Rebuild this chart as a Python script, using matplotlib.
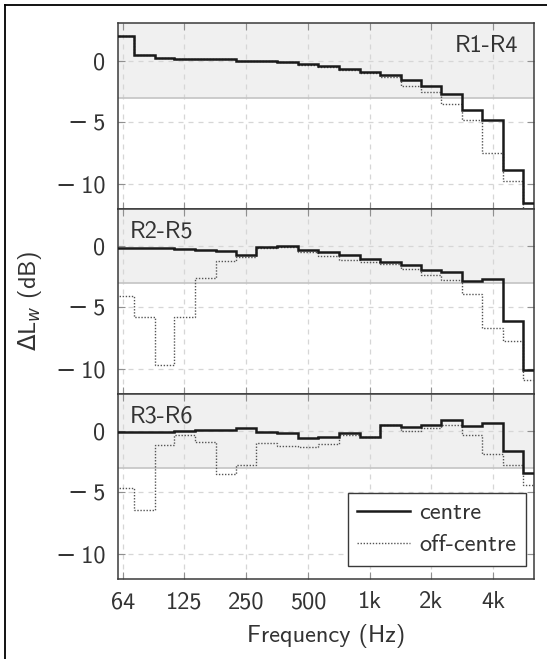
import numpy as np
import matplotlib.pyplot as plt
from matplotlib.lines import Line2D
from matplotlib.ticker import FuncFormatter

plt.rcParams['font.family'] = ['cmss10', 'DejaVu Sans']
plt.rcParams['mathtext.fontset'] = 'dejavusans'

# third-octave band centres (Hz)
bands = [63, 80, 100, 125, 160, 200, 250, 315, 400, 500, 630, 800,
         1000, 1250, 1600, 2000, 2500, 3150, 4000, 5000, 6300]

r14_centre = [1.95, 0.41, 0.24, 0.16, 0.11, 0.11, 0.0, -0.01, -0.14, -0.3, -0.46,
              -0.68, -0.95, -1.16, -1.57, -2.1, -2.7, -4.05, -4.8, -8.86, -11.54]
r14_off = [1.95, 0.41, 0.24, 0.15, 0.1, 0.1, -0.02, -0.03, -0.16, -0.35, -0.49,
           -0.76, -1.03, -1.35, -2.1, -2.54, -3.5, -4.8, -7.5, -9.76, -12.5]

r25_centre = [-0.19, -0.19, -0.2, -0.27, -0.32, -0.46, -0.73, -0.14, 0.0, -0.32, -0.5,
              -0.76, -1.05, -1.32, -1.54, -1.97, -2.16, -2.9, -2.7, -6.14, -10.1]
r25_off = [-4.1, -5.78, -9.7, -5.78, -2.62, -1.22, -0.95, -0.19, -0.14, -0.54, -0.86,
           -1.19, -1.32, -1.49, -1.92, -2.35, -2.78, -3.92, -6.68, -7.76, -10.86]

r36_centre = [-0.08, -0.08, -0.08, 0.0, 0.05, 0.05, 0.22, -0.08, -0.19, -0.62, -0.52,
              -0.19, -0.49, 0.49, 0.32, 0.46, 0.86, 0.35, 0.62, -1.62, -3.4]
r36_off = [-4.65, -6.4, -1.14, -0.32, -0.95, -3.54, -2.78, -1.0, -1.22, -1.32, -1.05,
           -0.38, -0.52, 0.45, 0.0, 0.19, 0.49, -0.35, -1.92, -2.78, -4.4]

panels = ['R1-R4', 'R2-R5', 'R3-R6']
xticks = [63, 125, 250, 500, 1000, 2000, 4000]
xticklabels = ['64', '125', '250', '500', '1k', '2k', '4k']
yticks = [0, -5, -10]

# band edges = geometric midpoints between centres
b = np.array(bands, dtype=float)
mid = np.sqrt(b[:-1] * b[1:])
edges = np.concatenate([[b[0] ** 2 / mid[0]], mid, [b[-1] ** 2 / mid[-1]]])


def ylab(v, pos):
    v = int(round(v))
    return '\u2212\u2009' + str(-v) if v < 0 else str(v)


fs = 17.5
fig = plt.figure(figsize=(5.47, 6.59), dpi=100)
left, right = 118 / 547, 534.3 / 547
bottom, top = 1 - 578.7 / 659, 1 - 23.5 / 659
h = (top - bottom) / 3

data = [(r14_centre, r14_off), (r25_centre, r25_off), (r36_centre, r36_off)]
axes = []
for i, (centre, off) in enumerate(data):
    ax = fig.add_axes([left, top - (i + 1) * h, right - left, h])
    axes.append(ax)
    ax.set_xscale('log')
    ax.set_xlim(59.3, 6350)
    ax.set_ylim(-12, 3)
    ax.axhspan(-3, 3, color='#f0f0f0', lw=0, zorder=0)
    ax.axhline(-3, color='#c4c4c4', lw=1.2, zorder=0.6)
    ax.set_axisbelow(True)
    ax.grid(True, color='#d6d6d6', lw=0.9, linestyle=(0, (4, 4)))

    ax.stairs(off, edges, color='#555555', lw=1.0, linestyle=(0, (1, 1.2)),
              baseline=None, zorder=3)
    ax.stairs(centre, edges, color='#1a1a1a', lw=1.8, baseline=None, zorder=4)

    ax.set_yticks(yticks)
    ax.yaxis.set_major_formatter(FuncFormatter(ylab))
    ax.set_xticks(xticks)
    ax.set_xticklabels(xticklabels)
    ax.minorticks_off()
    ax.tick_params(direction='in', top=True, right=True, length=5, width=0.8,
                   color='#909090', labelsize=fs, labelcolor='#333333', pad=9)
    for s in ax.spines.values():
        s.set_color('#3a3a3a')
        s.set_linewidth(1.1)
    if i < 2:
        ax.tick_params(labelbottom=False)

    if i == 0:
        ax.text(0.962, 0.845, panels[i], transform=ax.transAxes, ha='right',
                va='baseline', fontsize=17.5, color='#333333')
    else:
        ax.text(0.028, 0.845, panels[i], transform=ax.transAxes, ha='left',
                va='baseline', fontsize=17.5, color='#333333')

ax3 = axes[2]
ax3.set_xlabel('Frequency (Hz)', fontsize=fs, labelpad=8, color='#333333')
leg = ax3.legend([Line2D([], [], color='#1a1a1a', lw=1.8),
                  Line2D([], [], color='#555555', lw=1.0, linestyle=(0, (1, 1.2)))],
                 ['centre', 'off-centre'], loc='lower right',
                 bbox_to_anchor=(0.980, 0.069), borderaxespad=0, fontsize=fs,
                 fancybox=False, framealpha=1, edgecolor='#3a3a3a',
                 handlelength=2.15, handletextpad=0.4, borderpad=0.4,
                 labelspacing=0.4)
leg.get_frame().set_linewidth(1.0)
for t in leg.get_texts():
    t.set_color('#333333')

fig.text(30 / 547, 1 - 301 / 659, r'$\Delta$L$_w$ (dB)', rotation=90, ha='center',
         va='center', fontsize=fs, color='#333333')

# frame around the figure (only top and left visible)
fig.add_artist(Line2D([5 / 547, 5 / 547], [0, 1 - 5 / 659], color='black', lw=1.3,
                      transform=fig.transFigure))
fig.add_artist(Line2D([5 / 547, 1], [1 - 5 / 659, 1 - 5 / 659], color='black', lw=1.3,
                      transform=fig.transFigure))

fig.savefig('out.png', dpi=100)
